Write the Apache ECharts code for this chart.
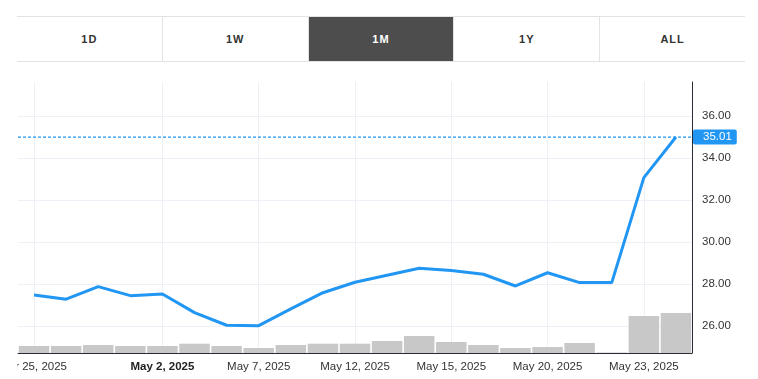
<!DOCTYPE html>
<html>
<head>
<meta charset="utf-8">
<script src="https://cdn.jsdelivr.net/npm/echarts@6/dist/echarts.min.js"></script>
<style>
  html, body { margin: 0; padding: 0; background: #fff; width: 758px; height: 379px; overflow: hidden; }
  #tabs { position: absolute; left: 17px; top: 16px; width: 728px; height: 44px; border-top: 1px solid #e3e3e3; border-bottom: 1px solid #e3e3e3; display: flex; }
  #tabs div { flex: 1; display: flex; align-items: center; justify-content: center; font-family: "Liberation Sans", Arial, sans-serif; font-weight: bold; font-size: 11px; letter-spacing: 1px; color: #333; border-left: 1px solid #e3e3e3; }
  #tabs div:first-child { border-left: none; }
  #tabs div.active { background: #4d4d4d; color: #fff; }
  #chart { position: absolute; left: 17px; top: 70px; width: 728px; height: 309px; }
</style>
</head>
<body>
<div id="tabs"></div>
<div id="chart"></div>
<script>
const tabLabels = ["1D", "1W", "1M", "1Y", "ALL"];
const activeTab = "1M";

const dates = ["Apr 25, 2025", "Apr 28, 2025", "Apr 29, 2025", "Apr 30, 2025", "May 2, 2025",
  "May 5, 2025", "May 6, 2025", "May 7, 2025", "May 8, 2025", "May 9, 2025",
  "May 12, 2025", "May 13, 2025", "May 14, 2025", "May 15, 2025", "May 16, 2025",
  "May 19, 2025", "May 20, 2025", "May 21, 2025", "May 22, 2025", "May 23, 2025", "May 27, 2025"];
const price = [27.49, 27.29, 27.89, 27.46, 27.54, 26.65, 26.05, 26.03, 26.83, 27.6,
  28.1, 28.43, 28.76, 28.66, 28.48, 27.92, 28.55, 28.08, 28.08, 33.08, 35.01];
const volume = [0.7, 0.7, 0.8, 0.7, 0.7, 0.93, 0.7, 0.5, 0.8, 0.93,
  0.93, 1.2, 1.7, 1.1, 0.8, 0.5, 0.6, 1.0, 0.05, 3.7, 4.0];
const labeledDates = ["Apr 25, 2025", "May 2, 2025", "May 7, 2025", "May 12, 2025", "May 15, 2025", "May 20, 2025", "May 23, 2025"];
const boldDates = ["May 2, 2025"];

const tabs = document.getElementById('tabs');
tabLabels.forEach(t => {
  const d = document.createElement('div');
  d.textContent = t;
  if (t === activeTab) d.className = 'active';
  tabs.appendChild(d);
});

const FONT = '"Liberation Sans", Arial, sans-serif';
const BLUE = '#2196f3';
const lastPrice = price[price.length - 1];
const chart = echarts.init(document.getElementById('chart'), null, { renderer: 'canvas' });

chart.setOption({
  animation: false,
  grid: { left: 1, right: 53, top: 12, bottom: 26, containLabel: false, outerBoundsMode: 'none' },
  xAxis: [{
    type: 'category',
    data: dates,
    boundaryGap: true,
    axisLine: { show: true, onZero: false, lineStyle: { color: '#2b2b35', width: 1 } },
    axisTick: { show: false },
    splitLine: { show: false },
    axisLabel: {
      interval: (i, v) => labeledDates.includes(v),
      margin: 8,
      color: '#333',
      fontSize: 11.5,
      fontFamily: FONT,
      formatter: v => boldDates.includes(v) ? '{b|' + v + '}' : v,
      rich: { b: { fontWeight: 'bold', color: '#222', fontSize: 11.5, fontFamily: FONT } }
    }
  }, {
    type: 'value',
    min: 0,
    max: 1,
    show: false
  }],
  yAxis: [{
    type: 'value',
    position: 'right',
    min: 24.73,
    max: 37.63,
    splitNumber: 6,
    axisLine: { show: true, onZero: false, lineStyle: { color: '#2b2b35', width: 1 } },
    axisTick: { show: false },
    splitLine: { show: true, showMinLine: false, showMaxLine: false, lineStyle: { color: '#eff0f7', width: 1 } },
    axisLabel: {
      showMinLabel: false, showMaxLabel: false,
      margin: 10, color: '#333', fontSize: 11.5, fontFamily: FONT,
      formatter: v => v.toFixed(2)
    }
  }, {
    type: 'value',
    min: 0,
    max: 27.1,
    show: false
  }],
  series: [{
    type: 'line',
    data: [],
    z: 0,
    silent: true,
    markLine: {
      z: 0,
      silent: true,
      symbol: 'none',
      animation: false,
      label: { show: false },
      lineStyle: { color: '#eff0f7', type: 'solid', width: 1 },
      data: labeledDates.map(d => ({ xAxis: d }))
    }
  }, {
    type: 'bar',
    yAxisIndex: 1,
    data: volume,
    barCategoryGap: '5%',
    itemStyle: { color: '#c8c8c8' },
    silent: true,
    z: 2
  }, {
    type: 'line',
    data: price,
    symbol: 'none',
    z: 3,
    color: BLUE,
    lineStyle: { color: BLUE, width: 3 },
    itemStyle: { color: BLUE }
  }, {
    type: 'line',
    xAxisIndex: 1,
    yAxisIndex: 0,
    data: [[0, lastPrice], [1, lastPrice]],
    symbol: 'none',
    silent: true,
    z: 4,
    color: BLUE,
    lineStyle: { color: BLUE, type: [3, 2], width: 1.3 },
    endLabel: {
      show: true, distance: 1,
      formatter: () => lastPrice.toFixed(2),
      color: '#fff', backgroundColor: BLUE,
      padding: [2, 5, 1, 10], borderRadius: 2,
      fontSize: 11.5, fontFamily: FONT
    }
  }]
});
</script>
</body>
</html>
